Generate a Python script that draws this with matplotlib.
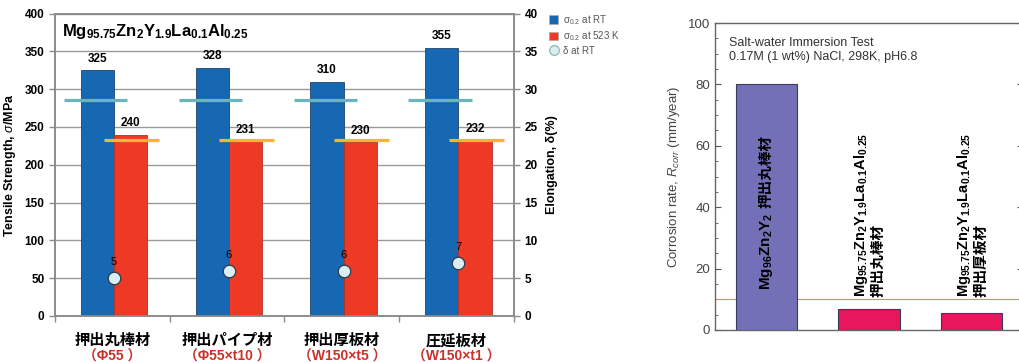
import matplotlib
matplotlib.use("Agg")
import matplotlib.pyplot as plt
from matplotlib.lines import Line2D
from matplotlib.patches import Patch
import numpy as np

plt.rcParams['font.family'] = ['Liberation Sans', 'Noto Sans CJK JP', 'DejaVu Sans']
plt.rcParams['mathtext.fontset'] = 'custom'
plt.rcParams['mathtext.rm'] = 'Liberation Sans'
plt.rcParams['mathtext.it'] = 'Liberation Sans:italic'
plt.rcParams['mathtext.bf'] = 'Liberation Sans:bold'

# left chart: tensile strength / elongation
forms = ['押出丸棒材', '押出パイプ材', '押出厚板材', '圧延板材']
sizes = ['（Φ55 ）', '（Φ55×t10 ）', '（W150×t5 ）', '（W150×t1 ）']
sigma_rt = [325, 328, 310, 355]
sigma_523 = [240, 231, 230, 232]
delta_rt = [5, 6, 6, 7]
ref_rt = [285, 285, 285, 285]
ref_523 = [233, 233, 233, 233]

# right chart: corrosion rate
alloy_names = [r'$\mathbf{Mg_{96}Zn_2Y_2}$',
               r'$\mathbf{Mg_{95.75}Zn_2Y_{1.9}La_{0.1}Al_{0.25}}$',
               r'$\mathbf{Mg_{95.75}Zn_2Y_{1.9}La_{0.1}Al_{0.25}}$']
corr_forms = ['押出丸棒材', '押出丸棒材', '押出厚板材']
corr_rate = [80, 7, 5.5]
corr_limit = 10

blue = '#1668b2'
red = '#ee3a24'
grey = '#8c8c8c'

fig = plt.figure(figsize=(10.2, 3.63), dpi=100)

# ---- left chart
ax = fig.add_axes([55 / 1020, 1 - 316 / 363, 459 / 1020, 302.5 / 363])
x = np.arange(len(forms))
w = 0.29
ax.bar(x - 0.13, sigma_rt, w, color=blue, edgecolor='#21436b', linewidth=0.6, zorder=3)
ax.bar(x + 0.16, sigma_523, w, color=red, edgecolor='#b0302a', linewidth=0.6, zorder=3)
for xi, v in zip(x, sigma_rt):
    ax.annotate(str(v), (xi - 0.13, v), xytext=(0, 4), textcoords='offset points',
                ha='center', va='bottom', fontsize=8.5, fontweight='bold')
for xi, v in zip(x, sigma_523):
    ax.annotate(str(v), (xi + 0.16, v), xytext=(0, 4), textcoords='offset points',
                ha='center', va='bottom', fontsize=8.5, fontweight='bold')
for xi, v in zip(x, ref_rt):
    ax.hlines(v, xi - 0.42, xi + 0.13, color='#6cb5bd', lw=2.3, zorder=4)
for xi, v in zip(x, ref_523):
    ax.hlines(v, xi - 0.07, xi + 0.41, color='#f7b52c', lw=2.3, zorder=4)

ax.set_xlim(-0.5, 3.5)
ax.set_ylim(0, 400)
ax.set_yticks(np.arange(0, 401, 50))
ax.yaxis.grid(True, color='#999999', lw=1.0, zorder=0)
ax.set_axisbelow(True)
ax.set_xticks(x)
ax.set_xticklabels([])
ax.set_xticks(np.arange(-0.5, 3.6, 1), minor=True)
ax.tick_params(axis='x', which='major', length=0)
ax.tick_params(axis='x', which='minor', length=4, color=grey, width=1)
ax.tick_params(axis='y', length=4, color=grey, width=1, labelsize=8.5)
for lab in ax.get_yticklabels():
    lab.set_fontweight('bold')
for s in ax.spines.values():
    s.set_color(grey)
    s.set_linewidth(1.2)
ax.set_ylabel(r'Tensile Strength, $\sigma$/MPa', fontsize=9, fontweight='bold', labelpad=5)

for xi, f, s in zip(x, forms, sizes):
    ax.text(xi, -0.083, f, transform=ax.get_xaxis_transform(), ha='center', va='center',
            fontsize=11, fontweight='bold')
    ax.text(xi, -0.135, s, transform=ax.get_xaxis_transform(), ha='center', va='center',
            fontsize=10, fontweight='bold', color='#c8322a')

ax.text(0.015, 0.94, r'$\mathbf{Mg_{95.75}Zn_2Y_{1.9}La_{0.1}Al_{0.25}}$',
        transform=ax.transAxes, ha='left', va='center', fontsize=12)

ax2 = ax.twinx()
ax2.set_ylim(0, 40)
ax2.set_yticks(np.arange(0, 41, 5))
ax2.plot(x + 0.015, delta_rt, 'o', ms=9, mfc='#d8eef2', mec='#2b3b4b', mew=0.9, ls='none', zorder=5)
for xi, v in zip(x, delta_rt):
    ax2.annotate(str(v), (xi + 0.015, v), xytext=(0, 8), textcoords='offset points',
                 ha='center', va='bottom', fontsize=8)
ax2.tick_params(axis='y', length=4, color=grey, width=1, labelsize=8.5)
for lab in ax2.get_yticklabels():
    lab.set_fontweight('bold')
for s in ax2.spines.values():
    s.set_color(grey)
    s.set_linewidth(1.2)
ax2.set_ylabel('Elongation, δ(%)', fontsize=9, fontweight='bold', labelpad=6)

handles = [Patch(facecolor=blue, edgecolor='#aaaaaa', lw=0.5),
           Patch(facecolor=red, edgecolor='#aaaaaa', lw=0.5),
           Line2D([], [], marker='o', ls='none', ms=7, mfc='#d8eef2', mec='#99bbbb')]
fig.legend(handles, [r'σ$_{0.2}$ at RT', r'σ$_{0.2}$ at 523 K', 'δ at RT'],
           loc='upper left', bbox_to_anchor=(540 / 1020, 1 - 4 / 363), frameon=False,
           fontsize=7, handlelength=1.0, handleheight=1.0, handletextpad=0.5,
           labelspacing=0.3, labelcolor='#555555')

# ---- right chart
axr = fig.add_axes([715 / 1020, 1 - 330 / 363, 308 / 1020, 307 / 363])
xr = np.arange(len(corr_rate))
axr.bar(xr, corr_rate, 0.6, color=['#7470b8', '#e8175d', '#e8175d'],
        edgecolor='#3a3a5a', linewidth=0.8, zorder=3)
axr.axhline(corr_limit, color='#e8806e', lw=0.8, zorder=2)
axr.set_xlim(-0.5, 2.5)
axr.set_ylim(0, 100)
axr.set_xticks([])
axr.set_yticks(np.arange(0, 101, 20))
axr.set_yticks(np.arange(0, 101, 5), minor=True)
axr.tick_params(axis='y', which='both', direction='in', right=True, color='#555555', labelsize=9.5,
                labelcolor='#444444')
axr.tick_params(axis='y', which='major', length=4)
axr.tick_params(axis='y', which='minor', length=2)
for s in axr.spines.values():
    s.set_color('#666666')
    s.set_linewidth(1.0)
axr.set_ylabel(r'Corrosion rate, $R_{corr}$ (mm/year)', fontsize=9.5, color='#444444', labelpad=4)
axr.text(0.045, 0.955, 'Salt-water Immersion Test\n0.17M (1 wt%) NaCl, 298K, pH6.8',
         transform=axr.transAxes, ha='left', va='top', fontsize=9, color='#333333', linespacing=1.2)

t0 = axr.text(xr[0], 13, alloy_names[0], rotation=90, ha='center', va='bottom', fontsize=11)
fig.canvas.draw()
bb = t0.get_window_extent()
top = axr.transData.inverted().transform((0, bb.y1))[1]
axr.text(xr[0], top + 1.5, corr_forms[0], rotation=90, ha='center', va='bottom',
         fontsize=10.5, fontweight='bold')
for i in range(1, len(corr_rate)):
    axr.text(xr[i], 10.6, alloy_names[i] + '\n' + corr_forms[i], rotation=90, ha='center',
             va='bottom', fontsize=10.5, fontweight='bold', multialignment='left', linespacing=1.1)

fig.savefig('out.png', dpi=100)
